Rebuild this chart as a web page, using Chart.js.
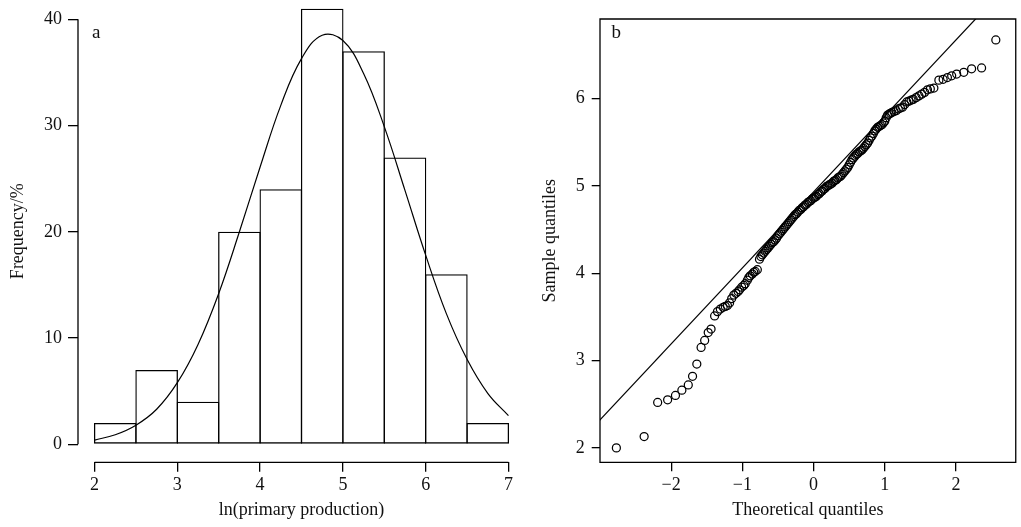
<!DOCTYPE html>
<html>
<head>
<meta charset="utf-8">
<script src="https://cdn.jsdelivr.net/npm/chart.js@4.4.1/dist/chart.umd.min.js"></script>
<style>
  body { margin: 0; background: #fff; }
  canvas { position: absolute; top: 0; }
  #histChart { left: 0; }
  #qqChart { left: 510px; }
</style>
</head>
<body>
<canvas id="histChart" width="525" height="527"></canvas>
<canvas id="qqChart" width="511" height="527"></canvas>
<script>
// histogram of ln(primary production), bins of width 0.5
const binMids = [2.25, 2.75, 3.25, 3.75, 4.25, 4.75, 5.25, 5.75, 6.25, 6.75];
const binCounts = [2, 7, 4, 20, 24, 41, 37, 27, 16, 2];

// fitted normal curve over the histogram
const curveX = [2, 2.25, 2.5, 2.75, 3, 3.25, 3.5, 3.75, 4, 4.25, 4.5, 4.75, 5, 5.25, 5.5, 5.75, 6, 6.25, 6.5, 6.75, 7];
const curveY = [0.4, 0.9, 1.8, 3.3, 5.8, 9.4, 14.2, 20.0, 26.1, 31.9, 36.3, 38.5, 38.0, 34.9, 29.9, 23.9, 17.8, 12.3, 8.0, 4.8, 2.7];

// normal Q-Q plot: theoretical vs sample quantiles
const theoretical = [
  -2.77, -2.38, -2.19, -2.05, -1.94, -1.85, -1.76, -1.70, -1.64, -1.58,
  -1.53, -1.48, -1.44, -1.39, -1.35, -1.31, -1.27, -1.24, -1.21, -1.18,
  -1.15, -1.12, -1.09, -1.06, -1.04, -1.01, -0.98, -0.96, -0.93, -0.91,
  -0.89, -0.86, -0.84, -0.82, -0.79, -0.76, -0.74, -0.72, -0.70, -0.68,
  -0.66, -0.64, -0.62, -0.60, -0.58, -0.56, -0.54, -0.52, -0.50, -0.48,
  -0.46, -0.44, -0.42, -0.40, -0.38, -0.36, -0.34, -0.32, -0.30, -0.28,
  -0.26, -0.24, -0.22, -0.20, -0.18, -0.16, -0.14, -0.12, -0.10, -0.08,
  -0.06, -0.04, -0.02, 0.00, 0.02, 0.04, 0.06, 0.08, 0.10, 0.12,
  0.14, 0.16, 0.18, 0.20, 0.22, 0.24, 0.26, 0.28, 0.30, 0.32,
  0.34, 0.36, 0.38, 0.40, 0.42, 0.44, 0.46, 0.48, 0.50, 0.52,
  0.54, 0.56, 0.58, 0.60, 0.62, 0.64, 0.66, 0.68, 0.70, 0.72,
  0.74, 0.76, 0.78, 0.80, 0.82, 0.84, 0.86, 0.88, 0.90, 0.92,
  0.94, 0.96, 0.98, 1.00, 1.02, 1.04, 1.06, 1.08, 1.10, 1.13,
  1.16, 1.19, 1.22, 1.25, 1.28, 1.31, 1.34, 1.37, 1.40, 1.44,
  1.48, 1.52, 1.56, 1.60, 1.64, 1.69, 1.76, 1.82, 1.88, 1.94,
  2.01, 2.11, 2.22, 2.36, 2.56
];
const sample = [
  2.00, 2.13, 2.52, 2.55, 2.60, 2.66, 2.72, 2.82, 2.96, 3.15,
  3.23, 3.32, 3.36, 3.51, 3.56, 3.59, 3.61, 3.62, 3.63, 3.66,
  3.71, 3.75, 3.77, 3.79, 3.81, 3.84, 3.86, 3.88, 3.92, 3.95,
  3.97, 3.99, 4.01, 4.02, 4.04, 4.16, 4.19, 4.21, 4.23, 4.25,
  4.27, 4.29, 4.31, 4.33, 4.35, 4.36, 4.38, 4.40, 4.43, 4.45,
  4.47, 4.49, 4.51, 4.53, 4.55, 4.57, 4.59, 4.61, 4.63, 4.65,
  4.67, 4.68, 4.70, 4.72, 4.73, 4.75, 4.76, 4.78, 4.79, 4.81,
  4.82, 4.83, 4.85, 4.86, 4.87, 4.88, 4.90, 4.91, 4.93, 4.94,
  4.96, 4.97, 4.99, 5.00, 5.01, 5.02, 5.03, 5.05, 5.06, 5.07,
  5.09, 5.10, 5.11, 5.13, 5.15, 5.17, 5.19, 5.21, 5.24, 5.27,
  5.30, 5.32, 5.34, 5.36, 5.37, 5.39, 5.40, 5.41, 5.43, 5.45,
  5.47, 5.49, 5.52, 5.55, 5.57, 5.60, 5.63, 5.65, 5.67, 5.68,
  5.69, 5.70, 5.72, 5.74, 5.78, 5.81, 5.82, 5.83, 5.84, 5.85,
  5.86, 5.88, 5.89, 5.90, 5.93, 5.96, 5.97, 5.98, 5.99, 6.01,
  6.03, 6.05, 6.07, 6.10, 6.11, 6.12, 6.21, 6.22, 6.24, 6.26,
  6.28, 6.30, 6.34, 6.35, 6.67
];
// reference line through the quartiles
const qqLineX = [-3.2, 2.5];
const qqLineY = [2.146, 7.105];

const histXTicks = [2, 3, 4, 5, 6, 7];
const histYTicks = [0, 10, 20, 30, 40];
const qqXTicks = [-2, -1, 0, 1, 2];
const qqYTicks = [2, 3, 4, 5, 6];

const serif = 'Liberation Serif';
const ink = '#111';
Chart.defaults.font.family = serif;
Chart.defaults.font.size = 18;
Chart.defaults.color = ink;

const minus = v => String(v).replace('-', '\u2212');

// partial axis lines (R style), box and panel letter
const frame = {
  id: 'frame',
  afterDatasetsDraw(chart, args, o) {
    const { ctx, chartArea: a, scales: { x, y } } = chart;
    ctx.save();
    ctx.strokeStyle = '#000';
    ctx.lineWidth = 1.3;
    ctx.beginPath();
    if (o.box) {
      ctx.rect(a.left, a.top, a.right - a.left, a.bottom - a.top);
    } else {
      ctx.moveTo(a.left, y.getPixelForValue(o.yFrom));
      ctx.lineTo(a.left, y.getPixelForValue(o.yTo));
      ctx.moveTo(x.getPixelForValue(o.xFrom), a.bottom);
      ctx.lineTo(x.getPixelForValue(o.xTo), a.bottom);
    }
    ctx.stroke();
    ctx.font = '19px "' + serif + '"';
    ctx.fillStyle = ink;
    ctx.textAlign = 'center';
    ctx.textBaseline = 'middle';
    ctx.fillText(o.tag, x.getPixelForValue(o.tagAt[0]), y.getPixelForValue(o.tagAt[1]));
    ctx.restore();
  }
};

function tickGrid(len) {
  return { drawOnChartArea: false, drawTicks: true, tickLength: len, color: '#000', tickColor: '#000', lineWidth: 1.3, tickWidth: 1.3 };
}

// fixed axis sizes, no extra room for edge labels
function fixWidth(w) {
  return s => { s.width = w; s.paddingTop = 0; s.paddingBottom = 0; };
}
function fixHeight(h) {
  return s => { s.height = h; s.paddingLeft = 0; s.paddingRight = 0; };
}

new Chart(document.getElementById('histChart'), {
  type: 'bar',
  data: {
    datasets: [{
      type: 'line',
      data: curveX.map((x, i) => ({ x: x, y: curveY[i] })),
      borderColor: '#000',
      borderWidth: 1.2,
      pointRadius: 0,
      fill: false,
      tension: 0.4
    }, {
      data: binMids.map((x, i) => ({ x: x, y: binCounts[i] })),
      backgroundColor: 'rgba(255,255,255,0)',
      borderColor: '#000',
      borderWidth: 1.3,
      borderSkipped: false,
      barPercentage: 1.03,
      categoryPercentage: 1
    }]
  },
  options: {
    responsive: false,
    animation: false,
    layout: { padding: 0 },
    plugins: {
      legend: { display: false },
      tooltip: { enabled: false },
      frame: { yFrom: 0, yTo: 40, xFrom: 2, xTo: 7, tag: 'a', tagAt: [2.02, 38.7] }
    },
    scales: {
      x: {
        type: 'linear', min: 1.8, max: 7.2, offset: false,
        afterBuildTicks: s => { s.ticks = histXTicks.map(v => ({ value: v })); },
        afterFit: fixHeight(64.7),
        grid: Object.assign(tickGrid(9.4), { offset: false }),
        border: { display: false },
        ticks: { autoSkip: false, maxRotation: 0, padding: 3 },
        title: { display: true, text: 'ln(primary production)', padding: { top: 0, bottom: 6 } }
      },
      y: {
        min: -1.694, max: 41.816,
        afterBuildTicks: s => { s.ticks = histYTicks.map(v => ({ value: v })); },
        afterFit: fixWidth(78),
        grid: tickGrid(10),
        border: { display: false },
        ticks: { padding: 6 },
        title: { display: true, text: 'Frequency/%', padding: { top: 7, bottom: 0 } }
      }
    }
  },
  plugins: [frame]
});

new Chart(document.getElementById('qqChart'), {
  type: 'scatter',
  data: {
    datasets: [{
      data: theoretical.map((x, i) => ({ x: x, y: sample[i] })),
      pointStyle: 'circle',
      pointRadius: 4,
      pointBorderWidth: 1.25,
      borderColor: '#000',
      backgroundColor: 'rgba(255,255,255,0)'
    }, {
      type: 'line',
      data: qqLineX.map((x, i) => ({ x: x, y: qqLineY[i] })),
      borderColor: '#000',
      borderWidth: 1.2,
      pointRadius: 0,
      fill: false
    }]
  },
  options: {
    responsive: false,
    animation: false,
    layout: { padding: { top: 19, right: 1, left: 0, bottom: 0 } },
    plugins: {
      legend: { display: false },
      tooltip: { enabled: false },
      frame: { box: true, tag: 'b', tagAt: [-2.77, 6.75] }
    },
    scales: {
      x: {
        type: 'linear', min: -3.0, max: 2.84,
        afterBuildTicks: s => { s.ticks = qqXTicks.map(v => ({ value: v })); },
        afterFit: fixHeight(64.7),
        grid: tickGrid(9),
        border: { display: false },
        ticks: { autoSkip: false, maxRotation: 0, padding: 3, callback: v => minus(v) },
        title: { display: true, text: 'Theoretical quantiles', padding: { top: 0, bottom: 6 } }
      },
      y: {
        min: 1.835, max: 6.91,
        afterBuildTicks: s => { s.ticks = qqYTicks.map(v => ({ value: v })); },
        afterFit: fixWidth(90),
        grid: tickGrid(8.3),
        border: { display: false },
        ticks: { padding: 7 },
        title: { display: true, text: 'Sample quantiles', padding: { top: 29, bottom: 0 } }
      }
    }
  },
  plugins: [frame]
});
</script>
</body>
</html>
